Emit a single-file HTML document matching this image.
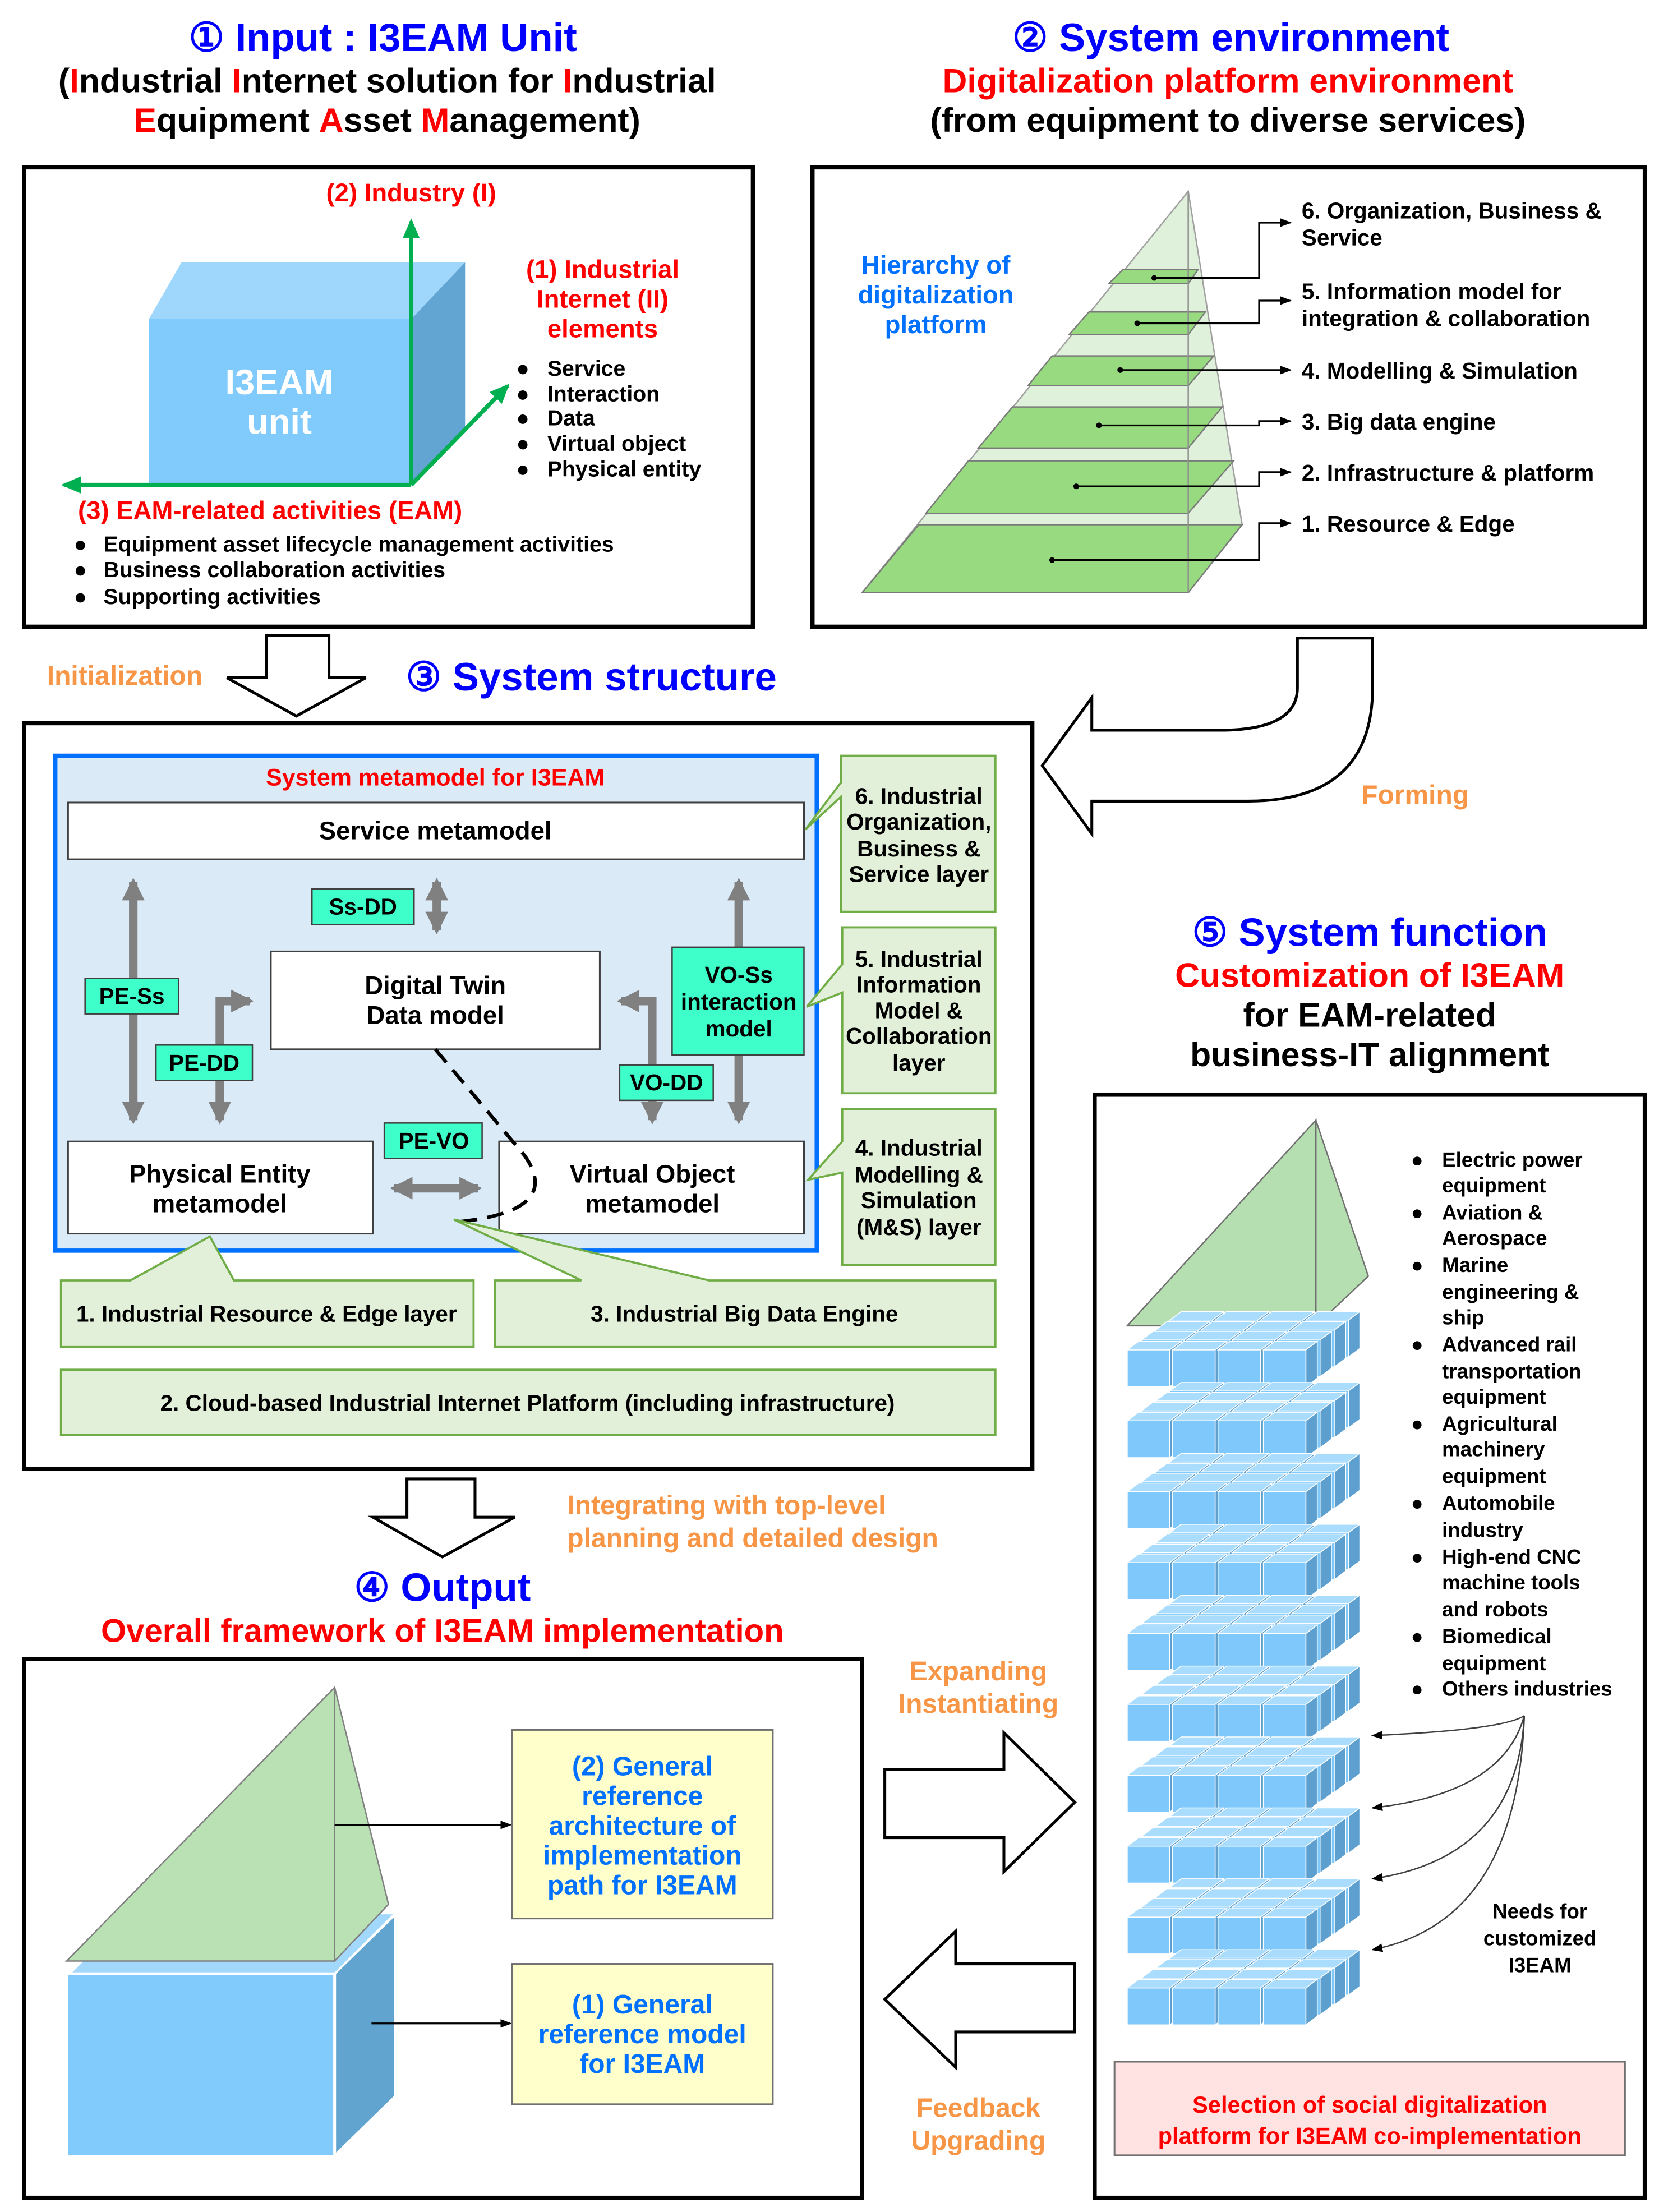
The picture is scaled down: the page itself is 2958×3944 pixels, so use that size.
<!DOCTYPE html>
<html><head><meta charset="utf-8"><style>
html,body{margin:0;padding:0;background:#fff;}
svg{display:block;}
text{font-family:"Liberation Sans Narrow","Liberation Sans",sans-serif;font-weight:bold;}
.w{font-family:"DejaVu Sans","Liberation Sans",sans-serif;}
</style></head><body>
<svg width="2958" height="3944" viewBox="0 0 1170 1560" xmlns="http://www.w3.org/2000/svg">
<defs>
<marker id="ab" markerWidth="8" markerHeight="8" refX="7" refY="4" orient="auto" markerUnits="userSpaceOnUse"><path d="M0,1 L8,4 L0,7 z" fill="#000"/></marker>
<marker id="ag" markerWidth="14" markerHeight="14" refX="12" refY="7" orient="auto" markerUnits="userSpaceOnUse"><path d="M0,1 L14,7 L0,13 z" fill="#00b050"/></marker>
<marker id="gy" markerWidth="16" markerHeight="16" refX="13" refY="8" orient="auto-start-reverse" markerUnits="userSpaceOnUse"><path d="M0,0 L16,8 L0,16 z" fill="#808080"/></marker>
<g id="cube"><rect x="0" y="0" width="30" height="26" fill="#7fc8fc" stroke="#fff" stroke-width="0.6"/><polygon points="0,0 8,-6 38,-6 30,0" fill="#a9dcfd" stroke="#fff" stroke-width="0.6"/><polygon points="30,0 38,-6 38,20 30,26" fill="#5d9fcf" stroke="#fff" stroke-width="0.6"/></g>
<g id="row"><use href="#cube" x="0"/><use href="#cube" x="32"/><use href="#cube" x="64"/><use href="#cube" x="96"/></g>
<g id="layer"><use href="#row" x="30" y="-21"/><use href="#row" x="20" y="-14"/><use href="#row" x="10" y="-7"/><use href="#row" x="0" y="0"/></g>
</defs>

<!-- Titles -->
<text x="270" y="36" text-anchor="middle" font-size="28" fill="#0000ff">① Input : I3EAM Unit</text>
<text x="273" y="65" text-anchor="middle" font-size="24" fill="#000">(<tspan fill="#ff0000">I</tspan>ndustrial <tspan fill="#ff0000">I</tspan>nternet solution for <tspan fill="#ff0000">I</tspan>ndustrial</text>
<text x="273" y="93" text-anchor="middle" font-size="24" fill="#000"><tspan fill="#ff0000">E</tspan>quipment <tspan fill="#ff0000">A</tspan>sset <tspan fill="#ff0000">M</tspan>anagement)</text>
<text x="868" y="36" text-anchor="middle" font-size="28" fill="#0000ff">② System environment</text>
<text x="866" y="65" text-anchor="middle" font-size="24" fill="#ff0000">Digitalization platform environment</text>
<text x="866" y="93" text-anchor="middle" font-size="24" fill="#000">(from equipment to diverse services)</text>

<!-- Box 1 -->
<rect x="17" y="118" width="514" height="324" fill="#fff" stroke="#000" stroke-width="3"/>
<polygon points="105,225 128,185 328,185 290,225" fill="#9fd6fb"/>
<polygon points="290,225 328,185 328,305 290,342" fill="#62a4d2"/>
<rect x="105" y="225" width="185" height="117" fill="#80cafc"/>
<text x="197" y="278" text-anchor="middle" font-size="25" fill="#fff">I3EAM</text>
<text x="197" y="306" text-anchor="middle" font-size="25" fill="#fff">unit</text>
<line x1="290" y1="342" x2="290" y2="156" stroke="#00b050" stroke-width="3" marker-end="url(#ag)"/>
<line x1="290" y1="342" x2="45" y2="342" stroke="#00b050" stroke-width="3" marker-end="url(#ag)"/>
<line x1="290" y1="342" x2="358" y2="272" stroke="#00b050" stroke-width="3" marker-end="url(#ag)"/>
<text x="290" y="142" text-anchor="middle" font-size="18" fill="#ff0000">(2) Industry (I)</text>
<text x="425" y="196" text-anchor="middle" font-size="18" fill="#ff0000">(1) Industrial</text>
<text x="425" y="217" text-anchor="middle" font-size="18" fill="#ff0000">Internet (II)</text>
<text x="425" y="238" text-anchor="middle" font-size="18" fill="#ff0000">elements</text>
<g font-size="15.5" fill="#000">
<text x="364" y="265">●</text><text x="386" y="265">Service</text>
<text x="364" y="283">●</text><text x="386" y="283">Interaction</text>
<text x="364" y="300">●</text><text x="386" y="300">Data</text>
<text x="364" y="318">●</text><text x="386" y="318">Virtual object</text>
<text x="364" y="336">●</text><text x="386" y="336">Physical entity</text>
</g>
<text x="55" y="366" font-size="18" fill="#ff0000">(3) EAM-related activities  (EAM)</text>
<g font-size="15.5" fill="#000">
<text x="52" y="389">●</text><text x="73" y="389">Equipment asset lifecycle management activities</text>
<text x="52" y="407">●</text><text x="73" y="407">Business collaboration activities</text>
<text x="52" y="426">●</text><text x="73" y="426">Supporting activities</text>
</g>

<!-- Box 2 -->
<rect x="573" y="118" width="587" height="324" fill="#fff" stroke="#000" stroke-width="3"/>
<polygon points="838,135 608,418 838,418 876,370" fill="#e0f1db" stroke="#a0a0a0" stroke-width="1"/>
<g fill="#97da80" stroke="#7a7a7a" stroke-width="1">
<polygon points="608,418 838,418 876,370 648,370"/>
<polygon points="653,362 838,362 870,325 683,325"/>
<polygon points="690,316 838,316 862,287 714,287"/>
<polygon points="725,272 838,272 856,251 742,251"/>
<polygon points="754,236 838,236 850,220 768,220"/>
<polygon points="782,200 838,200 845,190 792,190"/>
</g>
<line x1="838" y1="135" x2="838" y2="418" stroke="#909090" stroke-width="1"/>
<text x="660" y="193" text-anchor="middle" font-size="18" fill="#0070ff">Hierarchy of</text>
<text x="660" y="214" text-anchor="middle" font-size="18" fill="#0070ff">digitalization</text>
<text x="660" y="235" text-anchor="middle" font-size="18" fill="#0070ff">platform</text>
<g fill="none" stroke="#000" stroke-width="1.3">
<polyline points="742,395 888,395 888,369 910,369" marker-end="url(#ab)"/>
<polyline points="759,343 888,343 888,333 910,333" marker-end="url(#ab)"/>
<polyline points="775,300 888,300 888,297 910,297" marker-end="url(#ab)"/>
<polyline points="790,261 910,261" marker-end="url(#ab)"/>
<polyline points="802,228 888,228 888,212 910,212" marker-end="url(#ab)"/>
<polyline points="814,196 888,196 888,157 910,157" marker-end="url(#ab)"/>
</g>
<g fill="#000"><circle cx="742" cy="395" r="2"/><circle cx="759" cy="343" r="2"/><circle cx="775" cy="300" r="2"/><circle cx="790" cy="261" r="2"/><circle cx="802" cy="228" r="2"/><circle cx="814" cy="196" r="2"/></g>
<g font-size="16" fill="#000">
<text x="918" y="154">6. Organization, Business &amp;</text>
<text x="918" y="173">Service</text>
<text x="918" y="211">5. Information model for</text>
<text x="918" y="230">integration &amp; collaboration</text>
<text x="918" y="267">4. Modelling &amp; Simulation</text>
<text x="918" y="303">3. Big data engine</text>
<text x="918" y="339">2. Infrastructure &amp; platform</text>
<text x="918" y="375">1. Resource &amp; Edge</text>
</g>

<!-- Initialization arrow -->
<polygon points="188,448 232,448 232,478 258,478 209,505 160,478 188,478" fill="#fff" stroke="#000" stroke-width="2"/>
<text x="88" y="483" text-anchor="middle" font-size="19" fill="#f79646">Initialization</text>
<text x="417" y="487" text-anchor="middle" font-size="28" fill="#0000ff">③ System structure</text>

<!-- Forming arrow -->
<path d="M915,450 L968,450 L968,485 Q968,565 880,565 L770,565 L770,588 L735,540 L770,492 L770,515 L860,515 Q915,515 915,485 Z" fill="#fff" stroke="#000" stroke-width="2"/>
<text x="998" y="567" text-anchor="middle" font-size="19" fill="#f79646">Forming</text>

<!-- Box 3 -->
<rect x="17" y="510" width="711" height="526" fill="#fff" stroke="#000" stroke-width="3"/>
<rect x="39" y="533" width="537" height="349" fill="#dbeaf7" stroke="#0070ff" stroke-width="3"/>
<text x="307" y="554" text-anchor="middle" font-size="17" fill="#ff0000">System metamodel for I3EAM</text>
<g fill="#fff" stroke="#404040" stroke-width="1.2">
<rect x="48" y="566" width="519" height="40"/>
<rect x="191" y="671" width="232" height="69"/>
<rect x="48" y="805" width="215" height="65"/>
<rect x="352" y="805" width="215" height="65"/>
</g>
<text x="307" y="592" text-anchor="middle" font-size="18">Service metamodel</text>
<text x="307" y="701" text-anchor="middle" font-size="18">Digital Twin</text>
<text x="307" y="722" text-anchor="middle" font-size="18">Data model</text>
<text x="155" y="834" text-anchor="middle" font-size="18">Physical Entity</text>
<text x="155" y="855" text-anchor="middle" font-size="18">metamodel</text>
<text x="460" y="834" text-anchor="middle" font-size="18">Virtual Object</text>
<text x="460" y="855" text-anchor="middle" font-size="18">metamodel</text>
<g stroke="#808080" stroke-width="6" fill="none">
<line x1="94" y1="622" x2="94" y2="790" marker-start="url(#gy)" marker-end="url(#gy)"/>
<line x1="308" y1="622" x2="308" y2="656" marker-start="url(#gy)" marker-end="url(#gy)"/>
<line x1="521" y1="622" x2="521" y2="790" marker-start="url(#gy)" marker-end="url(#gy)"/>
<polyline points="155,790 155,706 176,706" marker-start="url(#gy)" marker-end="url(#gy)"/>
<polyline points="460,790 460,706 438,706" marker-start="url(#gy)" marker-end="url(#gy)"/>
<line x1="278" y1="838" x2="337" y2="838" marker-start="url(#gy)" marker-end="url(#gy)"/>
</g>
<g fill="#3effc9" stroke="#404040" stroke-width="1">
<rect x="60" y="690" width="66" height="25"/>
<rect x="220" y="627" width="72" height="25"/>
<rect x="110" y="737" width="68" height="25"/>
<rect x="437" y="751" width="66" height="25"/>
<rect x="474" y="668" width="93" height="76"/>
<rect x="271" y="792" width="69" height="25"/>
</g>
<g font-size="16" text-anchor="middle">
<text x="93" y="708">PE-Ss</text>
<text x="256" y="645">Ss-DD</text>
<text x="144" y="755">PE-DD</text>
<text x="470" y="769">VO-DD</text>
<text x="306" y="810">PE-VO</text>
<text x="521" y="693">VO-Ss</text>
<text x="521" y="712">interaction</text>
<text x="521" y="731">model</text>
</g>
<path d="M307,740 L370,815 Q398,855 320,862" fill="none" stroke="#000" stroke-width="2.5" stroke-dasharray="12,7"/>
<!-- callouts -->
<g fill="#e2f0d9" stroke="#70ad47" stroke-width="1.5">
<path d="M593,533 L702,533 L702,643 L593,643 L593,562 L568,585 L593,552 Z"/>
<path d="M594,654 L702,654 L702,771 L594,771 L594,700 L569,710 L594,680 Z"/>
<path d="M594,782 L702,782 L702,892 L594,892 L594,827 L570,832 L594,805 Z"/>
<path d="M43,903 L92,903 L148,872 L165,903 L334,903 L334,950 L43,950 Z"/>
<path d="M349,903 L410,903 L320,860 L500,903 L702,903 L702,950 L349,950 Z"/>
<rect x="43" y="966" width="659" height="46"/>
</g>
<g font-size="16" text-anchor="middle">
<text x="648" y="567">6. Industrial</text><text x="648" y="585">Organization,</text><text x="648" y="604">Business &amp;</text><text x="648" y="622">Service layer</text>
<text x="648" y="682">5. Industrial</text><text x="648" y="700">Information</text><text x="648" y="718">Model &amp;</text><text x="648" y="736">Collaboration</text><text x="648" y="755">layer</text>
<text x="648" y="815">4. Industrial</text><text x="648" y="834">Modelling &amp;</text><text x="648" y="852">Simulation</text><text x="648" y="871">(M&amp;S) layer</text>
<text x="188" y="932">1. Industrial Resource &amp; Edge layer</text>
<text x="525" y="932">3. Industrial Big Data Engine</text>
<text x="372" y="995">2. Cloud-based Industrial Internet Platform (including infrastructure)</text>
</g>

<!-- down arrow to output -->
<polygon points="287,1043 335,1043 335,1070 363,1070 312,1098 263,1070 287,1070" fill="#fff" stroke="#000" stroke-width="2"/>
<text x="400" y="1068" font-size="19" fill="#f79646">Integrating with top-level</text>
<text x="400" y="1091" font-size="19" fill="#f79646">planning and detailed design</text>
<text x="312" y="1129" text-anchor="middle" font-size="28" fill="#0000ff">④ Output</text>
<text x="312" y="1158" text-anchor="middle" font-size="23" fill="#ff0000">Overall framework of I3EAM implementation</text>

<!-- Box 4 -->
<rect x="17" y="1170" width="591" height="380" fill="#fff" stroke="#000" stroke-width="3"/>
<polygon points="51,1391 236,1391 277,1350 92,1350" fill="#a3d8fd"/>
<polygon points="237,1392 278,1352 278,1478 237,1518" fill="#62a4d0"/>
<rect x="48" y="1393" width="187" height="127" fill="#80cafc"/>
<polygon points="47,1383 236,1190 236,1383" fill="#b9e1b4" stroke="#808080" stroke-width="1"/>
<polygon points="236,1190 274,1343 236,1383" fill="#b9e1b4" stroke="#808080" stroke-width="1"/>
<line x1="236" y1="1287" x2="360" y2="1287" stroke="#000" stroke-width="1.3" marker-end="url(#ab)"/>
<line x1="262" y1="1427" x2="360" y2="1427" stroke="#000" stroke-width="1.3" marker-end="url(#ab)"/>
<rect x="361" y="1220" width="184" height="133" fill="#ffffcc" stroke="#707070" stroke-width="1.2"/>
<rect x="361" y="1385" width="184" height="99" fill="#ffffcc" stroke="#707070" stroke-width="1.2"/>
<g font-size="19" fill="#0070ff" text-anchor="middle">
<text x="453" y="1252">(2) General</text><text x="453" y="1273">reference</text><text x="453" y="1294">architecture of</text><text x="453" y="1315">implementation</text><text x="453" y="1336">path for I3EAM</text>
<text x="453" y="1420">(1) General</text><text x="453" y="1441">reference model</text><text x="453" y="1462">for I3EAM</text>
</g>

<!-- middle arrows -->
<text x="690" y="1185" text-anchor="middle" font-size="19" fill="#f79646">Expanding</text>
<text x="690" y="1208" text-anchor="middle" font-size="19" fill="#f79646">Instantiating</text>
<polygon points="624,1248 708,1248 708,1222 758,1271 708,1320 708,1296 624,1296" fill="#fff" stroke="#000" stroke-width="2"/>
<polygon points="758,1385 674,1385 674,1362 624,1410 674,1458 674,1433 758,1433" fill="#fff" stroke="#000" stroke-width="2"/>
<text x="690" y="1493" text-anchor="middle" font-size="19" fill="#f79646">Feedback</text>
<text x="690" y="1516" text-anchor="middle" font-size="19" fill="#f79646">Upgrading</text>

<!-- System function -->
<text x="966" y="667" text-anchor="middle" font-size="28" fill="#0000ff">⑤ System function</text>
<text x="966" y="696" text-anchor="middle" font-size="24" fill="#ff0000">Customization of I3EAM</text>
<text x="966" y="724" text-anchor="middle" font-size="24" fill="#000">for EAM-related</text>
<text x="966" y="752" text-anchor="middle" font-size="24" fill="#000">business-IT alignment</text>

<!-- Box 5 -->
<rect x="772" y="772" width="388" height="778" fill="#fff" stroke="#000" stroke-width="3"/>
<polygon points="795,935 928,790 928,935" fill="#b5dfb0" stroke="#707070" stroke-width="1"/>
<polygon points="928,790 965,900 928,935" fill="#b5dfb0" stroke="#707070" stroke-width="1"/>
<use href="#layer" x="795" y="952"/>
<use href="#layer" x="795" y="1002"/>
<use href="#layer" x="795" y="1052"/>
<use href="#layer" x="795" y="1102"/>
<use href="#layer" x="795" y="1152"/>
<use href="#layer" x="795" y="1202"/>
<use href="#layer" x="795" y="1252"/>
<use href="#layer" x="795" y="1302"/>
<use href="#layer" x="795" y="1352"/>
<use href="#layer" x="795" y="1402"/>
<g class="w" font-size="14.5" fill="#000">
<text x="995" y="823">●</text><text x="1017" y="823">Electric power</text><text x="1017" y="841">equipment</text>
<text x="995" y="860">●</text><text x="1017" y="860">Aviation &amp;</text><text x="1017" y="878">Aerospace</text>
<text x="995" y="897">●</text><text x="1017" y="897">Marine</text><text x="1017" y="916">engineering &amp;</text><text x="1017" y="934">ship</text>
<text x="995" y="953">●</text><text x="1017" y="953">Advanced rail</text><text x="1017" y="972">transportation</text><text x="1017" y="990">equipment</text>
<text x="995" y="1009">●</text><text x="1017" y="1009">Agricultural</text><text x="1017" y="1027">machinery</text><text x="1017" y="1046">equipment</text>
<text x="995" y="1065">●</text><text x="1017" y="1065">Automobile</text><text x="1017" y="1084">industry</text>
<text x="995" y="1103">●</text><text x="1017" y="1103">High-end CNC</text><text x="1017" y="1121">machine tools</text><text x="1017" y="1140">and robots</text>
<text x="995" y="1159">●</text><text x="1017" y="1159">Biomedical</text><text x="1017" y="1178">equipment</text>
<text x="995" y="1196">●</text><text x="1017" y="1196">Others industries</text>
<text x="1086" y="1353" text-anchor="middle">Needs for</text><text x="1086" y="1372" text-anchor="middle">customized</text><text x="1086" y="1391" text-anchor="middle">I3EAM</text>
</g>
<g fill="none" stroke="#404040" stroke-width="1">
<path d="M1075,1210 Q1060,1220 968,1224" marker-end="url(#ab)"/>
<path d="M1075,1210 Q1060,1265 968,1275" marker-end="url(#ab)"/>
<path d="M1075,1210 Q1070,1310 968,1325" marker-end="url(#ab)"/>
<path d="M1075,1210 Q1070,1355 968,1375" marker-end="url(#ab)"/>
</g>
<rect x="786" y="1454" width="360" height="66" fill="#ffe3e3" stroke="#707070" stroke-width="1.2"/>
<g class="w" font-size="16.5" fill="#ff0000" text-anchor="middle">
<text x="966" y="1490">Selection of social digitalization</text>
<text x="966" y="1512">platform for I3EAM co-implementation</text>
</g>
</svg>
</body></html>
